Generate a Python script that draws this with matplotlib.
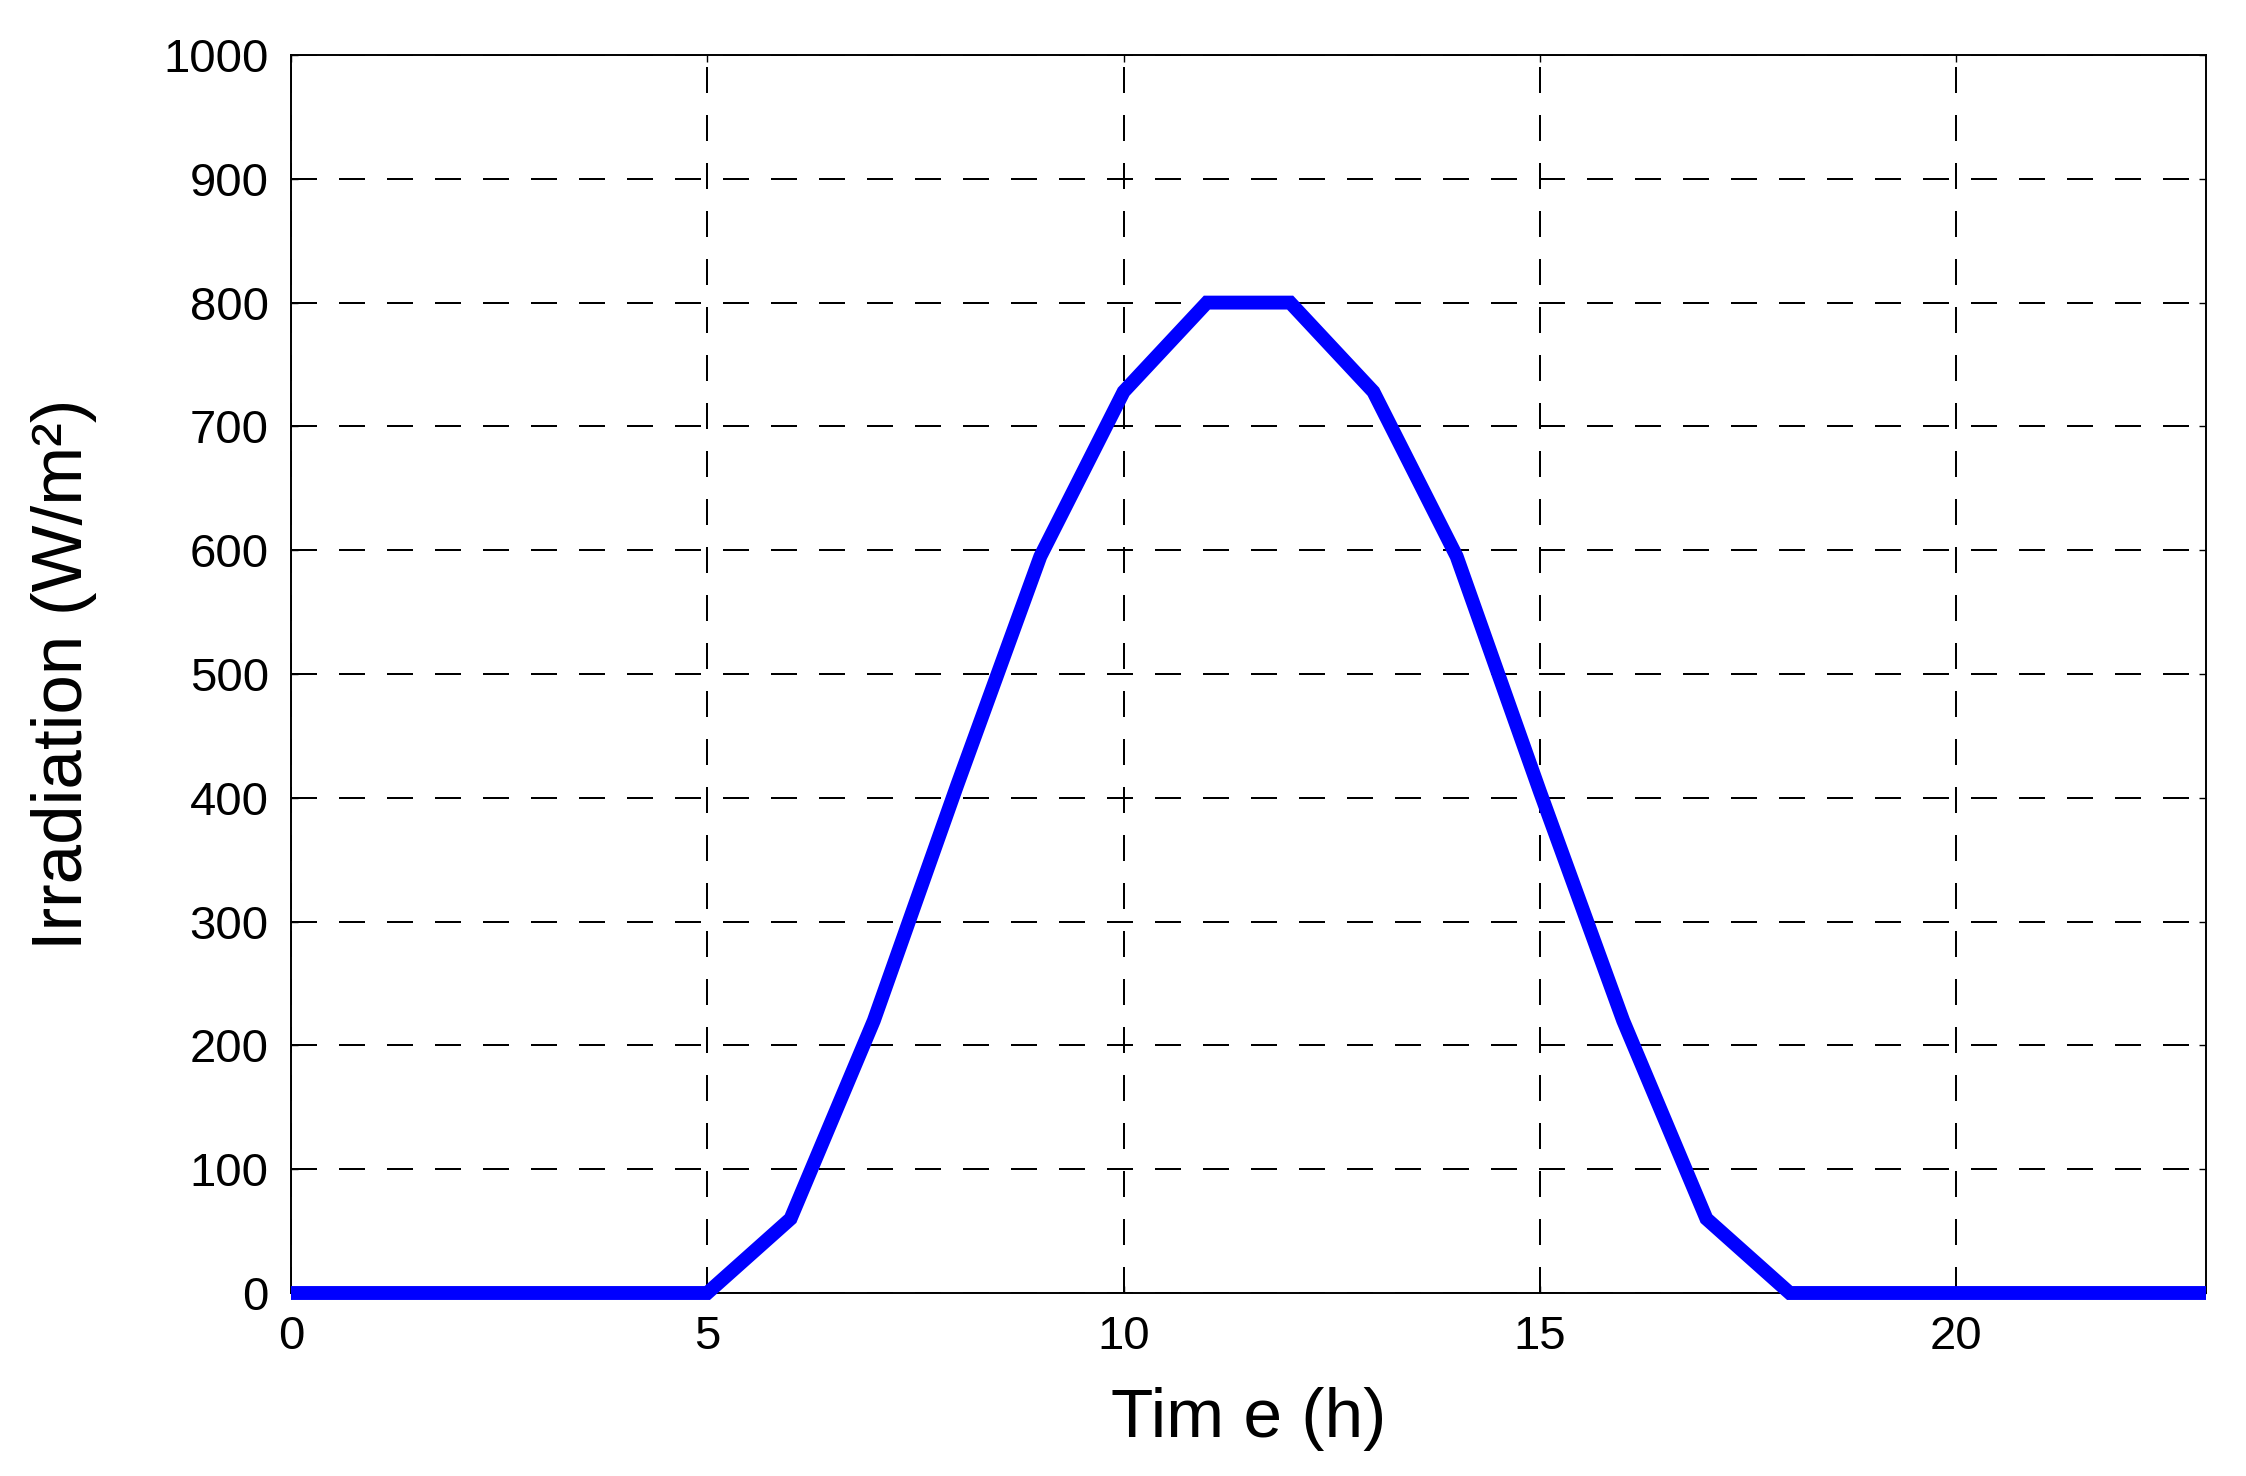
import matplotlib
matplotlib.use("Agg")
import matplotlib.pyplot as plt

hours = list(range(0, 24))
irradiation = [0, 0, 0, 0, 0, 0, 60, 220, 410, 595, 728, 800,
               800, 728, 595, 405, 220, 60, 0, 0, 0, 0, 0, 0]
xticks = [0, 5, 10, 15, 20]
yticks = [0, 100, 200, 300, 400, 500, 600, 700, 800, 900, 1000]

plt.rcParams['font.family'] = ['Liberation Sans', 'DejaVu Sans']
fig = plt.figure(figsize=(22.46, 14.76), dpi=100)
W, H = 2246, 1476
left, right, top, bottom = 291, 2206, 55, 1293
ax = fig.add_axes([left / W, 1 - bottom / H, (right - left) / W, (bottom - top) / H])
ax.plot(hours, irradiation, color='#0000ff', linewidth=10, solid_joinstyle='miter',
        solid_capstyle='butt', zorder=3, clip_on=False)
ax.set_xlim(0, 23)
ax.set_ylim(0, 1000)
ax.set_xticks(xticks)
ax.set_yticks(yticks)
ax.grid(True, color='black', linestyle=(0, (15, 13.5)), linewidth=1.2, antialiased=False)
ax.tick_params(direction='in', length=5, width=1, labelsize=34, pad=16,
               top=True, right=True)
for s in ax.spines.values():
    s.set_linewidth(1.4)
ax.set_xlabel('Tim e (h)', fontsize=50, labelpad=20)
ax.set_ylabel('Irradiation (W/m²)', fontsize=51, labelpad=48)
fig.savefig('out.png', dpi=100)
